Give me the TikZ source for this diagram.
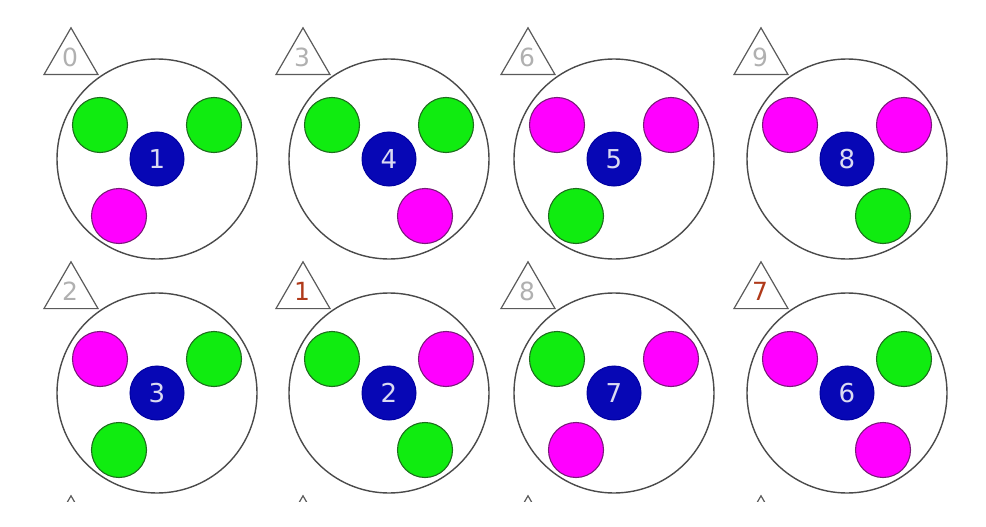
\documentclass[tikz,border=0pt]{standalone}
\usepackage{fontspec}
\setmainfont{DejaVu Sans}
\usetikzlibrary{shapes.geometric}
\definecolor{platec}{HTML}{4A4A4A}
\definecolor{ballgreen}{HTML}{10EC10}
\definecolor{greenedge}{HTML}{1E6E1E}
\definecolor{ballpink}{HTML}{FF00FF}
\definecolor{pinkedge}{HTML}{7A1A7A}
\definecolor{hubblue}{HTML}{0707B5}
\definecolor{hubedge}{HTML}{0000A0}
\definecolor{hubtext}{HTML}{DADAF2}
\definecolor{tagline}{HTML}{5A5A5A}
\definecolor{taggray}{HTML}{B0B0B0}
\definecolor{tagred}{HTML}{B03A1A}
\tikzset{
  plate/.style={circle, draw=platec, line width=1.4pt, fill=white, minimum size=200pt, inner sep=0pt},
  gball/.style={circle, draw=greenedge, line width=1.1pt, fill=ballgreen, minimum size=55pt, inner sep=0pt},
  mball/.style={circle, draw=pinkedge, line width=1.1pt, fill=ballpink, minimum size=55pt, inner sep=0pt},
  hub/.style={circle, draw=hubedge, line width=1pt, fill=hubblue, minimum size=54pt, inner sep=0pt,
    text=hubtext, font=\fontsize{26}{26}\selectfont},
  tag/.style={regular polygon, regular polygon sides=3, draw=tagline, line width=1.2pt,
    minimum size=62.4pt, inner sep=0pt},
  tagnum/.style={inner sep=0pt, font=\fontsize{25}{25}\selectfont}
}
\begin{document}
\begin{tikzpicture}[x=1pt,y=-1pt]
  % page frame
  \useasboundingbox (0,0) rectangle (986,527);

  % eight plates: centre, tag number, tag colour, hub number, upper left, upper right, lower ball, lower x
  \foreach \cx/\cy/\tn/\tc/\hn/\ul/\ur/\lo/\lx [count=\i] in {
      157/159/0/taggray/1/gball/gball/mball/-38,
      389/159/3/taggray/4/gball/gball/mball/36,
      614/159/6/taggray/5/mball/mball/gball/-38,
      847/159/9/taggray/8/mball/mball/gball/36,
      157/393/2/taggray/3/mball/gball/gball/-38,
      389/393/1/tagred/2/gball/mball/gball/36,
      614/393/8/taggray/7/gball/mball/mball/-38,
      847/393/7/tagred/6/mball/gball/mball/36}{
    \node[plate] (plate\i) at (\cx,\cy) {};
    \node[\ul] (upl\i) at (\cx-57,\cy-34) {};
    \node[\ur] (upr\i) at (\cx+57,\cy-34) {};
    \node[\lo] (low\i) at (\cx+\lx,\cy+57) {};
    \node[hub] (hub\i) at (\cx,\cy) {\hn};
    % triangle tag
    \node[tag] (tag\i) at (\cx-86,\cy-100) {};
    \node[tagnum, text=\tc] (tagnum\i) at (\cx-87,\cy-102) {\tn};
  }

  % tips of the next row, cut off
  \begin{scope}
    \clip (0,0) rectangle (986,501);
    \foreach \cx [count=\i] in {157,389,614,847}
      \node[tag] (stub\i) at (\cx-86,627-100) {};
  \end{scope}
\end{tikzpicture}
\end{document}
